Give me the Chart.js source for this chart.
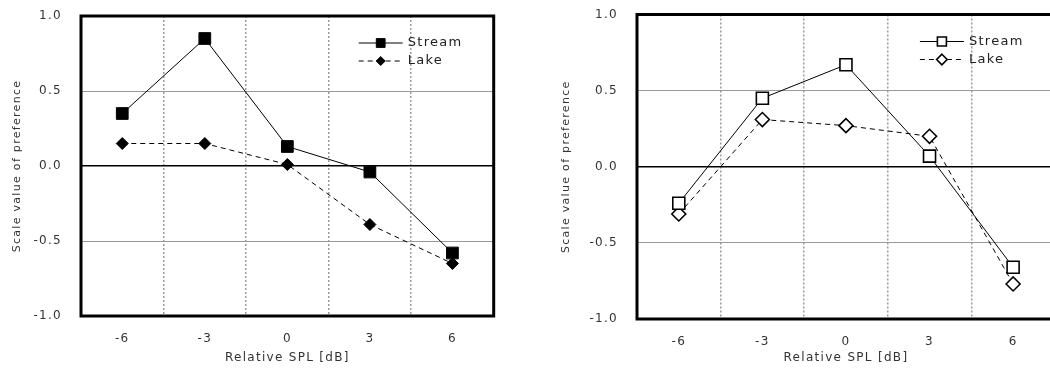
<!DOCTYPE html>
<html>
<head>
<meta charset="utf-8">
<script src="https://cdn.jsdelivr.net/npm/chart.js@4.4.1/dist/chart.umd.min.js"></script>
<style>
  html, body { margin: 0; padding: 0; background: #fff; overflow: hidden; width: 1050px; height: 368px; }
  #left { position: absolute; left: 0; top: 0; }
  #right { position: absolute; left: 540px; top: 0; }
</style>
</head>
<body>
<canvas id="left" width="503" height="368"></canvas>
<canvas id="right" width="525" height="368"></canvas>
<script>
// values
const splLabels = ['-6', '-3', '0', '3', '6'];
const yTickValues = [-1, -0.5, 0, 0.5, 1];

const leftStream = [0.35, 0.85, 0.13, -0.04, -0.58];
const leftLake = [0.15, 0.15, 0.01, -0.39, -0.65];

const rightStream = [-0.24, 0.45, 0.67, 0.07, -0.66];
const rightLake = [-0.31, 0.31, 0.27, 0.20, -0.77];

Chart.defaults.font.family = '"DejaVu Sans", sans-serif';
Chart.defaults.font.size = 12;
Chart.defaults.color = '#333';

// the original text is drawn quite wide
const wideText = {
    id: 'wideText',
    beforeLayout(chart) { chart.ctx.letterSpacing = '1.3px'; },
    beforeDraw(chart) { chart.ctx.letterSpacing = '1.3px'; }
};

// thick box round the plot area
const frame = {
    id: 'frame',
    afterDraw(chart) {
        const { ctx, chartArea } = chart;
        ctx.save();
        ctx.strokeStyle = '#000';
        ctx.lineWidth = 3;
        ctx.strokeRect(chartArea.left, chartArea.top, chartArea.right - chartArea.left, chartArea.bottom - chartArea.top);
        ctx.restore();
    }
};

function drawMarker(ctx, style, x, y, r, fill, bw) {
    ctx.beginPath();
    if (style === 'rect') {
        const s = r * Math.SQRT1_2;
        ctx.rect(x - s, y - s, 2 * s, 2 * s);
    } else {
        ctx.moveTo(x, y - r);
        ctx.lineTo(x + r, y);
        ctx.lineTo(x, y + r);
        ctx.lineTo(x - r, y);
        ctx.closePath();
    }
    ctx.fillStyle = fill;
    ctx.fill();
    ctx.lineWidth = bw;
    ctx.strokeStyle = '#000';
    ctx.stroke();
}

// legend sits inside the plot, top right
const insideLegend = {
    id: 'insideLegend',
    afterDraw(chart) {
        const { ctx, chartArea } = chart;
        const x0 = chartArea.right - 135;
        chart.data.datasets.forEach((ds, i) => {
            const y = chartArea.top + 27 + i * 18;
            ctx.save();
            ctx.letterSpacing = '1.3px';
            ctx.strokeStyle = '#000';
            ctx.lineWidth = 1;
            ctx.setLineDash(ds.borderDash || []);
            ctx.beginPath();
            ctx.moveTo(x0, y);
            ctx.lineTo(x0 + 44, y);
            ctx.stroke();
            ctx.setLineDash([]);
            drawMarker(ctx, ds.pointStyle, x0 + 22, y, ds.pointRadius * 0.75, ds.pointBackgroundColor, ds.pointBorderWidth);
            ctx.fillStyle = '#222';
            ctx.font = '13px "DejaVu Sans"';
            ctx.textBaseline = 'middle';
            ctx.fillText(ds.label, x0 + 49, y);
            ctx.restore();
        });
    }
};

function makeChart(id, stream, lake, filled, yWidth, xHeight, padTop, padRight, titlePad) {
    const fill = filled ? '#000' : '#fff';
    return new Chart(document.getElementById(id), {
        type: 'line',
        data: {
            labels: splLabels,
            datasets: [{
                label: 'Stream',
                data: stream,
                borderColor: '#000',
                borderWidth: 1,
                pointStyle: 'rect',
                pointRadius: filled ? 8.3 : 8.5,
                pointBackgroundColor: fill,
                pointBorderColor: '#000',
                pointBorderWidth: filled ? 1 : 1.6
            }, {
                label: 'Lake',
                data: lake,
                borderColor: '#000',
                borderWidth: 1,
                borderDash: [5, 4],
                pointStyle: 'rectRot',
                pointRadius: filled ? 6 : 7,
                pointBackgroundColor: fill,
                pointBorderColor: '#000',
                pointBorderWidth: filled ? 1 : 1.6
            }]
        },
        options: {
            responsive: false,
            animation: false,
            layout: { padding: { top: padTop, right: padRight, left: 0, bottom: 0 } },
            plugins: {
                legend: { display: false },
                tooltip: { enabled: false }
            },
            scales: {
                x: {
                    offset: true,
                    afterFit: (scale) => { scale.height = xHeight; },
                    grid: {
                        offset: true,
                        drawTicks: false,
                        color: (c) => (c.index === 0 || c.index === splLabels.length) ? 'rgba(0,0,0,0)' : '#9a9a9a',
                        lineWidth: 1.5
                    },
                    border: { display: false, dash: [2, 2] },
                    ticks: { padding: 16, color: '#333' },
                    title: {
                        display: true,
                        text: 'Relative SPL [dB]',
                        color: '#333',
                        padding: { top: 0, bottom: 3 }
                    }
                },
                y: {
                    min: -1,
                    max: 1,
                    afterFit: (scale) => {
                        scale.width = yWidth;
                        scale.paddingTop = 0;
                        scale.paddingBottom = 0;
                    },
                    afterBuildTicks: (scale) => { scale.ticks = yTickValues.map(v => ({ value: v })); },
                    grid: {
                        drawTicks: false,
                        color: (c) => c.tick.value === 0 ? '#000' : (Math.abs(c.tick.value) === 1 ? 'rgba(0,0,0,0)' : '#999'),
                        lineWidth: (c) => c.tick.value === 0 ? 1.5 : 1
                    },
                    border: { display: false },
                    ticks: {
                        padding: 19,
                        color: '#333',
                        callback: (v) => Number(v).toFixed(1)
                    },
                    title: {
                        display: true,
                        text: 'Scale value of preference',
                        color: '#333',
                        font: { size: 11 },
                        padding: { top: titlePad, bottom: 0 }
                    }
                }
            }
        },
        plugins: [wideText, frame, insideLegend]
    });
}

makeChart('left', leftStream, leftLake, true, 81, 52, 16, 3, 11);
makeChart('right', rightStream, rightLake, false, 97, 49, 14.5, 6, 20);
</script>
</body>
</html>
